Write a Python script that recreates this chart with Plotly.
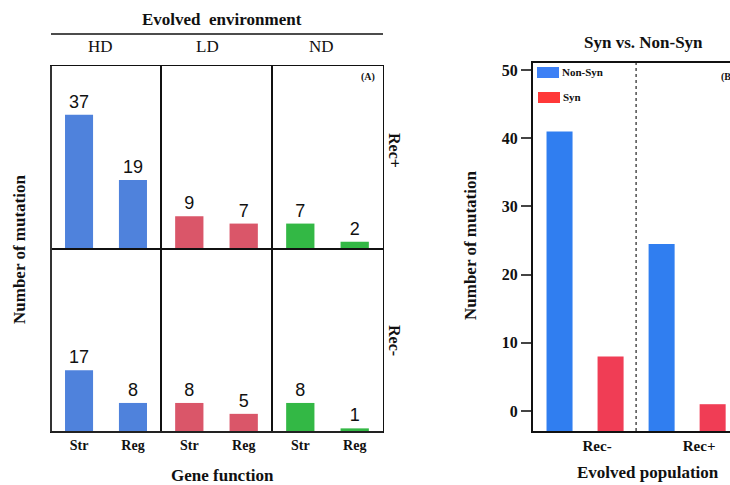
import plotly.graph_objects as go

# ---------------- data ----------------
gene_functions = ["Str", "Reg"]
environments = ["HD", "LD", "ND"]
rec_plus = {"HD": [37, 19], "LD": [9, 7], "ND": [7, 2]}
rec_minus = {"HD": [17, 8], "LD": [8, 5], "ND": [8, 1]}
env_colors = {"HD": "#4F82DC", "LD": "#DA5669", "ND": "#33B845"}

populations = ["Rec-", "Rec+"]
non_syn = [41, 24.5]
syn = [8, 1]
b_ticks = [0, 10, 20, 30, 40, 50]

W, H = 730, 485
SERIF = "Liberation Serif, Times New Roman, serif"
SANS = "Liberation Sans, Arial, sans-serif"


def px(x):
    return x / W


def py(y):
    return 1 - y / H


fig = go.Figure()
layout = {}

col_px = [(51, 161), (161, 272), (272, 383)]
row_px = [(66, 249), (249, 432)]
A_YMAX = 50.4

idx = 0
for r, rowdata in enumerate([rec_plus, rec_minus]):
    for c, env in enumerate(environments):
        idx += 1
        xa = "x" if idx == 1 else f"x{idx}"
        ya = "y" if idx == 1 else f"y{idx}"
        vals = rowdata[env]
        fig.add_trace(go.Bar(
            x=gene_functions, y=vals, xaxis=xa, yaxis=ya,
            marker=dict(color=env_colors[env], line=dict(width=0)),
            width=0.52, text=[str(v) for v in vals], textposition="outside",
            textfont=dict(family=SANS, size=18, color="#111"),
            cliponaxis=False, showlegend=False,
        ))
        xkey = "xaxis" if idx == 1 else f"xaxis{idx}"
        ykey = "yaxis" if idx == 1 else f"yaxis{idx}"
        layout[xkey] = dict(
            domain=[px(col_px[c][0]), px(col_px[c][1])], anchor=ya,
            range=[-0.52, 1.52], showgrid=False, zeroline=False,
            showline=True, mirror=True, linecolor="#111", linewidth=1,
            ticks="", showticklabels=(r == 1),
            tickfont=dict(family=SERIF, size=14, color="#111", weight="bold"),
        )
        layout[ykey] = dict(
            domain=[py(row_px[r][1]), py(row_px[r][0])], anchor=xa,
            range=[0, A_YMAX], showgrid=False, zeroline=False,
            showline=True, mirror=True, linecolor="#111", linewidth=1,
            ticks="", showticklabels=False,
        )

# ---------------- panel B ----------------
B_YMIN, B_YMAX = -2.93, 51.03
fig.add_trace(go.Bar(
    x=populations, y=[v - B_YMIN for v in non_syn], base=B_YMIN,
    name="Non-Syn", marker=dict(color="#307EF0", line=dict(width=0)),
    xaxis="x7", yaxis="y7", showlegend=False,
))
fig.add_trace(go.Bar(
    x=populations, y=[v - B_YMIN for v in syn], base=B_YMIN,
    name="Syn", marker=dict(color="#F03D55", line=dict(width=0)),
    xaxis="x7", yaxis="y7", showlegend=False,
))
layout["xaxis7"] = dict(
    domain=[px(533), 1], anchor="y7", range=[-0.51, 1.42],
    showgrid=False, zeroline=False, showline=True, mirror=True,
    linecolor="#111", linewidth=2, ticks="", ticklabelshift=12,
    tickfont=dict(family=SERIF, size=15, color="#111", weight="bold"),
)
layout["yaxis7"] = dict(
    domain=[py(431), py(63)], anchor="x7", range=[B_YMIN, B_YMAX],
    showgrid=False, zeroline=False, showline=True, mirror=False,
    linecolor="#111", linewidth=2, tickvals=b_ticks,
    ticks="outside", ticklen=10, tickwidth=2, tickcolor="#444",
    tickfont=dict(family=SERIF, size=16, color="#111", weight="bold"),
)

shapes = [
    # outer left border of panel A (thicker, dark grey)
    dict(type="line", xref="paper", yref="paper", x0=px(51), x1=px(51),
         y0=py(432), y1=py(66), line=dict(color="#333", width=2)),
    # bottom axis line of panel A
    dict(type="line", xref="paper", yref="paper", x0=px(51), x1=px(383),
         y0=py(432), y1=py(432), line=dict(color="#222", width=2)),
    # header rule above environment labels
    dict(type="line", xref="paper", yref="paper", x0=px(51), x1=px(383),
         y0=py(34), y1=py(34), line=dict(color="#111", width=1.5)),
    # dotted separator in panel B
    dict(type="line", xref="x7", yref="paper", x0=0.5, x1=0.5,
         y0=py(431), y1=py(63), line=dict(color="#222", width=1.2, dash="dot")),
    # legend swatches
    dict(type="rect", xref="paper", yref="paper", x0=px(537), x1=px(559),
         y0=py(78), y1=py(67), fillcolor="#3D80F5", line=dict(width=0)),
    dict(type="rect", xref="paper", yref="paper", x0=px(538), x1=px(560),
         y0=py(103), y1=py(92), fillcolor="#FF3838", line=dict(width=0)),
]


def ann(text, x, y, size, bold=True, angle=0, xanchor="center", family=SERIF):
    return dict(text=text, x=px(x), y=py(y), xref="paper", yref="paper",
                showarrow=False, textangle=angle, xanchor=xanchor, yanchor="middle",
                font=dict(family=family, size=size, color="#111",
                          weight="bold" if bold else "normal"))


annotations = [
    ann("Evolved  environment", 222, 20, 17),
    ann("HD", 100, 46, 17, bold=False),
    ann("LD", 207, 46, 17, bold=False),
    ann("ND", 321, 46, 17, bold=False),
    ann("(A)", 368, 77, 10),
    ann("Rec+", 395, 150, 16, angle=90),
    ann("Rec-", 395, 340, 16, angle=90),
    ann("Number of mutation", 20, 250, 17, angle=-90),
    ann("Gene function", 222, 475, 17),
    ann("Syn vs. Non-Syn", 643, 42, 17),
    ann("Non-Syn", 560, 72, 11, xanchor="left"),
    ann("Syn", 561, 97, 11, xanchor="left"),
    ann("(B)", 719, 77, 10, xanchor="left"),
    ann("Number of mutation", 470, 246, 17, angle=-90),
    ann("Evolved population", 648, 472, 17),
]

fig.update_layout(
    width=W, height=H, autosize=False,
    margin=dict(l=0, r=0, t=0, b=0),
    paper_bgcolor="white", plot_bgcolor="white",
    barmode="group", bargap=0.0, bargroupgap=0.49,
    shapes=shapes, annotations=annotations,
    **layout,
)

fig.write_html("out.html")
